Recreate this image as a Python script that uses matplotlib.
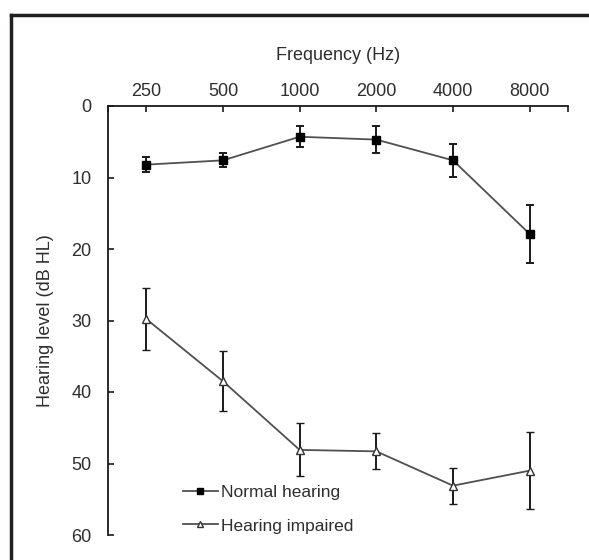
import matplotlib
matplotlib.use("Agg")
import matplotlib.pyplot as plt
from matplotlib.lines import Line2D
import numpy as np

plt.rcParams['font.family'] = ['Liberation Sans', 'DejaVu Sans']

frequencies = ["250", "500", "1000", "2000", "4000", "8000"]
normal_mean = [8.2, 7.6, 4.3, 4.7, 7.6, 17.9]
normal_err = [1.1, 1.0, 1.5, 1.9, 2.3, 4.0]
impaired_mean = [29.8, 38.5, 48.1, 48.3, 53.1, 51.0]
impaired_err = [4.3, 4.2, 3.7, 2.5, 2.5, 5.4]
yticks = [0, 10, 20, 30, 40, 50, 60]

W, H = 589, 560
fig = plt.figure(figsize=(W / 100, H / 100), dpi=100)
ax = fig.add_axes([108 / W, 1 - 535 / H, (568 - 108) / W, (535 - 106) / H])

x = np.arange(len(frequencies))
txt = '#2e2e2e'
dark = '#1a1a1a'
linec = '#505050'

ax.errorbar(x, normal_mean, yerr=normal_err, color=linec, lw=1.3,
            marker='s', ms=5.5, mfc='black', mec='black',
            ecolor=dark, elinewidth=1.4, capsize=3, capthick=1.4, zorder=3)
ax.errorbar(x, impaired_mean, yerr=impaired_err, color=linec, lw=1.3,
            marker='^', ms=6, mfc='white', mec='#333333', mew=1.0,
            ecolor=dark, elinewidth=1.4, capsize=3, capthick=1.4, zorder=3)

ax.set_xlim(-0.5, 5.5)
ax.set_ylim(60, 0)
ax.xaxis.tick_top()
ax.xaxis.set_label_position('top')
ax.set_xticks(x)
ax.set_xticklabels(frequencies)
ax.set_xticks([-0.5, 5.5], minor=True)
ax.set_yticks(yticks)
ax.set_yticklabels([str(v) for v in yticks])

for s in ['bottom', 'right']:
    ax.spines[s].set_visible(False)
for s in ['top', 'left']:
    ax.spines[s].set_color(dark)
    ax.spines[s].set_linewidth(1.3)

ax.tick_params(axis='x', which='both', direction='in', length=4, width=1.2,
               color=dark, labelsize=13, labelcolor=txt, pad=4,
               top=True, bottom=False)
ax.tick_params(axis='y', which='both', direction='in', length=4, width=1.2,
               color=dark, labelsize=13, labelcolor=txt, pad=12)

ax.set_xlabel('Frequency (Hz)', fontsize=13, color=txt, labelpad=17)
ax.set_ylabel('Hearing level (dB HL)', fontsize=13, color=txt, labelpad=12)

h1 = Line2D([], [], color=linec, lw=1.3, marker='s', ms=4.5, mfc='black', mec='black')
h2 = Line2D([], [], color=linec, lw=1.3, marker='^', ms=5, mfc='white', mec='#333333', mew=1.0)
leg = ax.legend([h1, h2], ['Normal hearing', 'Hearing impaired'], loc='upper left',
                bbox_to_anchor=(183 / W, 1 - 485 / H),
                bbox_transform=fig.transFigure, frameon=False,
                fontsize=12.5, handlelength=2.0, handletextpad=0.2,
                labelspacing=1.05, borderpad=0, borderaxespad=0)
for t in leg.get_texts():
    t.set_color(txt)

# outer frame (top and left edges)
fig.add_artist(Line2D([11 / W, 1], [1 - 15 / H, 1 - 15 / H], color='#231f20', lw=2.5,
                      transform=fig.transFigure))
fig.add_artist(Line2D([11 / W, 11 / W], [0, 1 - 15 / H], color='#231f20', lw=2.5,
                      transform=fig.transFigure))

fig.savefig('out.png', dpi=100)
